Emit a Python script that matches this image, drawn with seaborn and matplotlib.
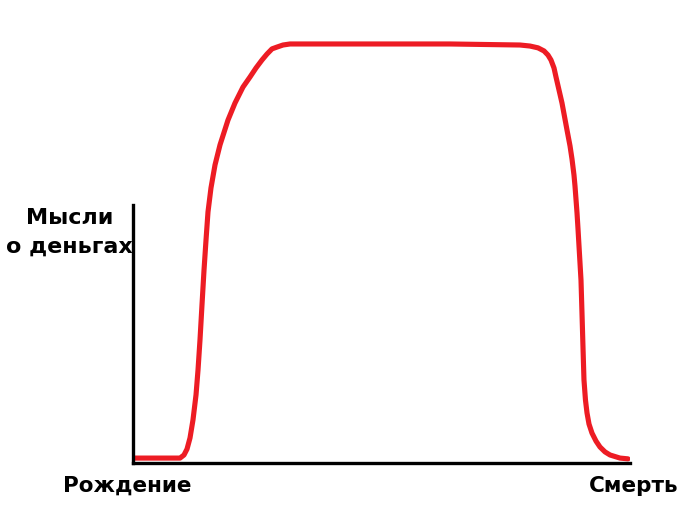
import matplotlib
matplotlib.use("Agg")
import matplotlib.pyplot as plt
import seaborn as sns
import pandas as pd

# возраст (0 = рождение, 100 = смерть) и "мысли о деньгах" (1 = верх оси)
age = [0.40, 9.46, 10.26, 10.87, 11.47, 12.07, 12.68, 13.08, 13.48, 13.88, 14.29,
       14.69, 15.09, 15.69, 16.50, 17.51, 19.11, 20.52, 22.13, 23.54, 24.75, 25.96,
       26.96, 27.97, 28.97, 30.18, 31.59, 43.66, 63.78, 77.87, 79.88, 81.49, 82.70,
       83.50, 84.10, 84.71, 85.11, 85.71, 86.32, 87.32, 87.93, 88.33, 88.73, 88.93,
       89.13, 89.34, 89.54, 89.74, 90.14, 90.34, 90.54, 90.74, 91.04, 91.35, 91.75,
       92.35, 93.16, 93.96, 94.97, 95.98, 97.99, 99.60]
thoughts = [0.019, 0.019, 0.031, 0.054, 0.097, 0.167, 0.264, 0.360, 0.477, 0.612,
            0.748, 0.864, 0.973, 1.066, 1.155, 1.233, 1.329, 1.395, 1.457, 1.496,
            1.531, 1.562, 1.585, 1.605, 1.612, 1.620, 1.624, 1.624, 1.624, 1.620,
            1.616, 1.609, 1.597, 1.581, 1.562, 1.531, 1.496, 1.446, 1.395, 1.291,
            1.229, 1.178, 1.116, 1.074, 1.023, 0.969, 0.907, 0.841, 0.709, 0.581,
            0.450, 0.322, 0.244, 0.194, 0.151, 0.116, 0.085, 0.062, 0.043, 0.031,
            0.019, 0.016]

y_label = "Мысли\nо деньгах"
x_start = "Рождение"
x_end = "Смерть"

df = pd.DataFrame({"age": age, "thoughts": thoughts})

sns.set_style("white")
plt.rcParams['font.family'] = ['DejaVu Sans']

fig = plt.figure(figsize=(7, 5.13), dpi=100)
ax = fig.add_axes([0.19, 0.0975, 0.71, 0.855])

sns.lineplot(data=df, x="age", y="thoughts", ax=ax, color="#ed1c24",
             linewidth=3.7, solid_capstyle="round", solid_joinstyle="round")

ax.set_xlim(0, 100)
ax.set_ylim(0, 1.7)
for s in ["top", "right"]:
    ax.spines[s].set_visible(False)
for s in ["left", "bottom"]:
    ax.spines[s].set_linewidth(2.4)
    ax.spines[s].set_color("black")
ax.spines["left"].set_bounds(0, 1)
ax.set_xticks([])
ax.set_yticks([])
ax.set_xlabel("")
ax.set_ylabel("")

ax.text(-0.012, 0.99, y_label, ha="right", va="top", color="black",
        fontsize=16, fontweight="bold", multialignment="center", linespacing=1.55,
        clip_on=False)
ax.text(-1.2, -0.05, x_start, ha="center", va="top", fontsize=15.5, color="black",
        fontweight="bold", clip_on=False)
ax.text(100.8, -0.05, x_end, ha="center", va="top", fontsize=15.5, color="black",
        fontweight="bold", clip_on=False)

fig.savefig("out.png", dpi=100, facecolor="white")
